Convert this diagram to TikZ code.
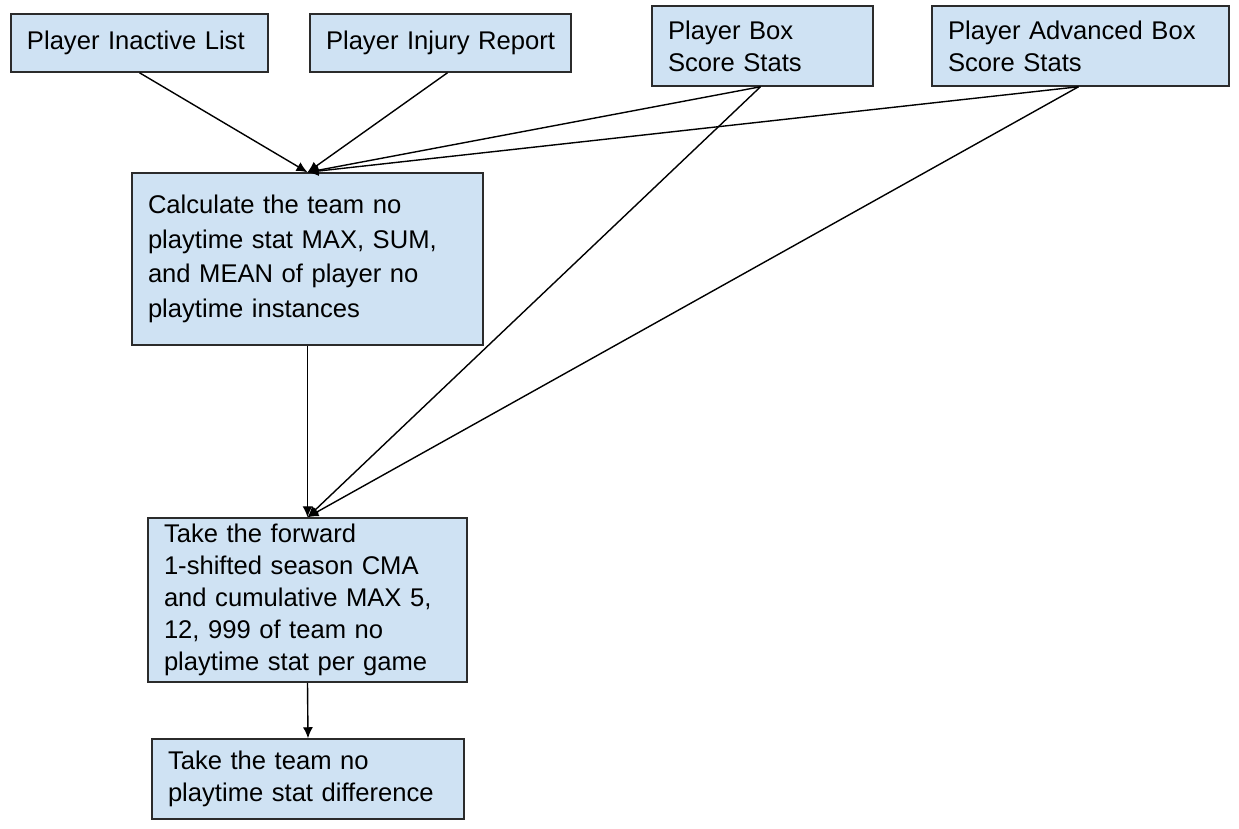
\documentclass[tikz,border=0pt]{standalone}
\usepackage{fontspec}
\setmainfont{Liberation Sans}
\usetikzlibrary{arrows.meta}
\definecolor{boxfill}{HTML}{CFE2F3}
\definecolor{boxline}{HTML}{2B2B2B}
\hyphenpenalty=10000
\exhyphenpenalty=10000
\begin{document}
\begin{tikzpicture}[x=1pt,y=-1pt,
  procbox/.style={draw=boxline, line width=1.5pt, fill=boxfill, rectangle,
    inner xsep=16pt, inner ysep=0pt, align=left, anchor=center,
    font=\fontsize{25.6}{32}\selectfont},
  conn/.style={draw=black, line width=1.4pt, -{Latex[length=11pt,width=10pt]}}]
\useasboundingbox (0,0) rectangle (1239,828);
\fill[white] (0,0) rectangle (1239,828);
\node[procbox, text width=225pt, minimum height=58pt] (b1) at (139.5,43) {Player Inactive List};
\node[procbox, text width=229pt, minimum height=58pt] (b2) at (440.5,43) {\mbox{Player Injury Report}};
\node[procbox, text width=189pt, minimum height=80pt] (b3) at (762.5,46) {Player Box\\Score Stats};
\node[procbox, text width=265pt, minimum height=80pt] (b4) at (1080.5,46) {Player Advanced Box\\Score Stats};
\node[procbox, text width=319pt, minimum height=172pt, font=\fontsize{25.6}{34.5}\selectfont] (b5) at (307.5,259) {Calculate the team no\\playtime stat MAX, SUM,\\and MEAN of player no\\playtime instances};
\node[procbox, text width=287pt, minimum height=164pt] (b6) at (307.5,600) {Take the forward\\1-shifted season CMA\\and cumulative MAX 5,\\12, 999 of team no\\playtime stat per game};
\node[procbox, text width=280pt, minimum height=80pt] (b7) at (308,779) {Take the team no\\playtime stat difference};
\draw[conn] (b1.south) -- (b5.north);
\draw[conn] ([xshift=7pt]b2.south) -- (b5.north);
\draw[conn] ([xshift=-2pt]b3.south) -- (b5.north);
\draw[conn] ([xshift=-2pt]b4.south) -- (b5.north);
\draw[conn] ([xshift=-2pt]b3.south) -- (b6.north);
\draw[conn] ([xshift=-2pt]b4.south) -- (b6.north);
\draw[conn] (b5.south) -- (b6.north);
\draw[conn] (b6.south) -- (b7.north);
\end{tikzpicture}
\end{document}
